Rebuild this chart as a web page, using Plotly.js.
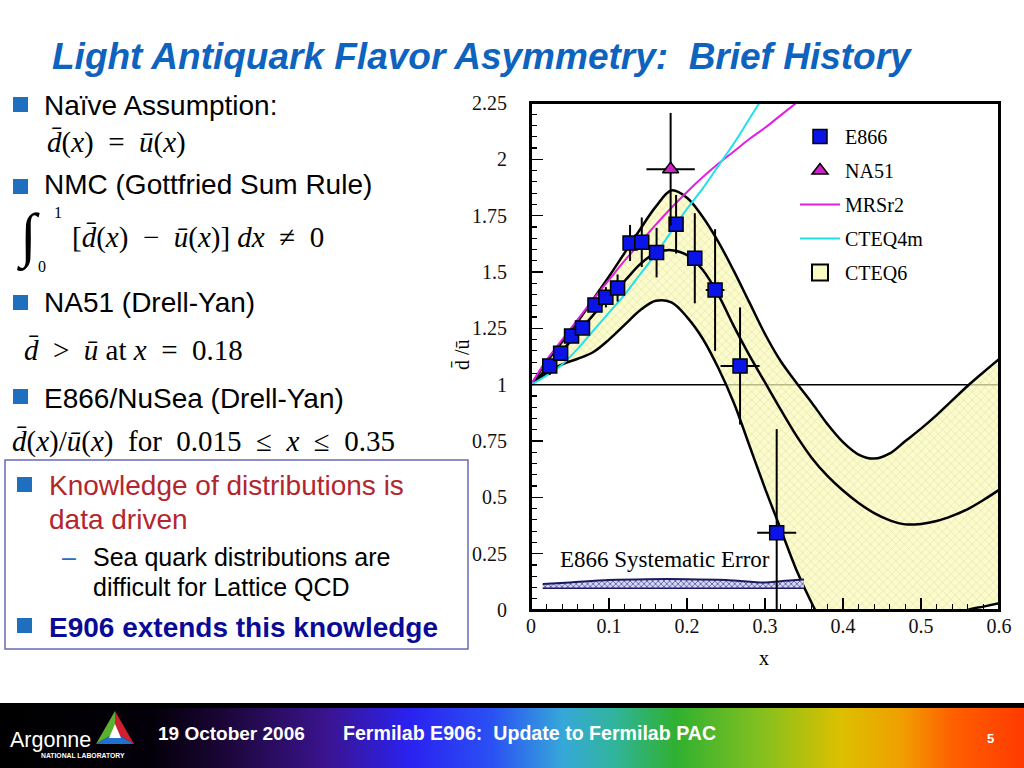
<!DOCTYPE html>
<html><head><meta charset="utf-8">
<script src="https://cdn.plot.ly/plotly-3.0.1.min.js"></script>
<style>html,body{margin:0;padding:0;background:#fff}#chart{width:1024px;height:768px}</style>
</head><body><div id="chart"></div>
<script>
// ---------------- data ----------------
const e866X   = [0.024,0.038,0.052,0.066,0.082,0.096,0.111,0.127,0.142,0.161,0.186,0.210,0.236,0.268,0.315];
const e866Y   = [1.083,1.139,1.216,1.252,1.354,1.388,1.429,1.629,1.632,1.586,1.712,1.561,1.420,1.083,0.343];
const e866Err = [0.04,0.03,0.03,0.03,0.03,0.045,0.06,0.08,0.11,0.11,0.13,0.20,0.27,0.26,0.46];
const e866XErr= [0.003,0.004,0.005,0.005,0.005,0.005,0.005,0.005,0.005,0.007,0.008,0.009,0.012,0.025,0.025];

const na51X = [0.179];
const na51Y = [1.956];
const na51Err = [0.25];
const na51XErr = [0.031];

const mrsX = [0.0,0.02,0.04,0.06,0.08,0.10,0.12,0.14,0.16,0.18,0.20,0.22,0.24,0.26,0.28,0.30,0.32,0.34];
const mrsY = [1.0,1.11,1.20,1.29,1.38,1.465,1.55,1.63,1.71,1.785,1.855,1.92,1.98,2.035,2.09,2.14,2.195,2.25];

const cteq4X = [0.0,0.02,0.04,0.06,0.08,0.10,0.12,0.14,0.16,0.18,0.20,0.22,0.24,0.26,0.28,0.30];
const cteq4Y = [1.0,1.04,1.09,1.16,1.24,1.32,1.40,1.49,1.58,1.68,1.78,1.87,1.97,2.07,2.18,2.29];

const bandX = [0,0.02,0.04,0.06,0.08,0.10,0.12,0.14,0.16,0.18,0.20,0.22,0.24,0.26,0.28,0.30,0.32,0.34,0.36,0.38,0.40,0.42,0.44,0.46,0.48,0.50,0.52,0.54,0.56,0.58,0.60];
const bandUpper = [1.0,1.10,1.19,1.28,1.38,1.48,1.585,1.69,1.79,1.862,1.83,1.745,1.635,1.505,1.365,1.225,1.105,1.01,0.92,0.825,0.745,0.69,0.672,0.695,0.75,0.805,0.865,0.93,0.995,1.055,1.113];
const bandCentral = [1.0,1.07,1.15,1.23,1.31,1.39,1.46,1.535,1.585,1.597,1.575,1.51,1.40,1.26,1.13,1.01,0.89,0.775,0.675,0.595,0.53,0.475,0.43,0.398,0.38,0.382,0.395,0.418,0.448,0.488,0.533];
const bandLower = [1.0,1.05,1.09,1.115,1.145,1.20,1.265,1.33,1.372,1.365,1.30,1.205,1.075,0.92,0.73,0.54,0.36,0.18,0.03,-0.10,-0.18,-0.20,-0.20,-0.18,-0.15,-0.12,-0.08,-0.04,0.0,0.015,0.03];

const sysX = [0.015,0.05,0.10,0.15,0.20,0.25,0.30,0.32,0.35];
const sysTop = [0.115,0.122,0.133,0.137,0.137,0.133,0.122,0.128,0.135];
const sysBottom = [0.097,0.097,0.097,0.097,0.097,0.097,0.097,0.097,0.097];

const xTicks = [0,0.1,0.2,0.3,0.4,0.5,0.6];
const yTicks = [0,0.25,0.5,0.75,1,1.25,1.5,1.75,2,2.25];
const refY = 1;

// ---------------- page geometry ----------------
const W=1024,H=768,L=531,R=25,T=103,B=158;
const pw=W-L-R, ph=H-T-B;
const px = x => (x-L)/pw;
const py = y => (H-B-y)/ph;

const SERIF='Liberation Serif, Times New Roman, serif';
const SANS='Liberation Sans, Arial, sans-serif';
const SP='\u2002';

function ann(text,x,y,size,color,family,extra){
  return Object.assign({text:text,xref:'paper',yref:'paper',x:px(x),y:py(y),xanchor:'left',yanchor:'middle',
    showarrow:false,font:{size:size,color:color,family:family}},extra||{});
}

const black='#000';
const bandPattern={shape:'x',bgcolor:'rgba(250,250,188,0.72)',fgcolor:'rgba(215,215,140,0.9)',size:6,solidity:0.15};
const traces=[
 {x:bandX,y:bandUpper,mode:'lines',line:{color:black,width:2.5,shape:'spline',smoothing:1},showlegend:false,hoverinfo:'skip'},
 {x:bandX,y:bandLower,mode:'lines',fill:'tonexty',fillcolor:'rgba(250,250,188,0.72)',fillpattern:bandPattern,
  line:{color:black,width:2.5,shape:'spline',smoothing:1},showlegend:false,hoverinfo:'skip'},
 {x:bandX,y:bandCentral,mode:'lines',line:{color:black,width:2.5,shape:'spline',smoothing:1},showlegend:false,hoverinfo:'skip'},
 {x:mrsX,y:mrsY,mode:'lines',name:'MRSr2',line:{color:'#e020e0',width:2,shape:'spline',smoothing:1},legendrank:3,legendgroup:'c'},
 {x:cteq4X,y:cteq4Y,mode:'lines',name:'CTEQ4m',line:{color:'#22e0ea',width:2,shape:'spline',smoothing:1},legendrank:4,legendgroup:'d'},
 {x:sysX,y:sysBottom,mode:'lines',line:{color:'#1a1a60',width:1.5},showlegend:false,hoverinfo:'skip'},
 {x:sysX,y:sysTop,mode:'lines',fill:'tonexty',fillcolor:'#c8c8f0',
  fillpattern:{shape:'x',bgcolor:'#d8d8f4',fgcolor:'#303090',size:4,solidity:0.3},
  line:{color:'#1a1a60',width:2,shape:'spline'},showlegend:false,hoverinfo:'skip'},
 {x:e866X,y:e866Y,mode:'markers',name:'E866',legendrank:1,legendgroup:'a',
  marker:{symbol:'square',size:14,color:'#0a14e6',line:{color:black,width:1.5}},
  error_y:{type:'data',array:e866Err,color:black,thickness:2,width:0},
  error_x:{type:'data',array:e866XErr,color:black,thickness:2,width:0}},
 {x:na51X,y:na51Y,mode:'markers',name:'NA51',legendrank:2,legendgroup:'b',
  marker:{symbol:'triangle-up',size:14,color:'#d020c8',line:{color:black,width:1.5}},
  error_y:{type:'data',array:na51Err,color:black,thickness:2,width:0},
  error_x:{type:'data',array:na51XErr,color:black,thickness:2,width:0}},
 {x:[null],y:[null],mode:'markers',name:'CTEQ6',legendrank:5,legendgroup:'e',
  marker:{symbol:'square',size:26,color:'#fbfbc4',line:{color:black,width:2},
   pattern:{shape:'x',bgcolor:'#fbfbc4',fgcolor:'#e2e29a',size:4,solidity:0.15}}}
];

const gradSvg = "<svg xmlns='http://www.w3.org/2000/svg' width='1024' height='65' viewBox='0 0 1024 65' preserveAspectRatio='none'>"+
 "<defs><linearGradient id='g' x1='0' x2='1' y1='0' y2='0'>"+
 "<stop offset='0' stop-color='#000000'/><stop offset='0.15' stop-color='#04000a'/>"+
 "<stop offset='0.22' stop-color='#1c0638'/><stop offset='0.32' stop-color='#3a1490'/>"+
 "<stop offset='0.40' stop-color='#2a22f0'/><stop offset='0.48' stop-color='#2a50f4'/>"+
 "<stop offset='0.55' stop-color='#36a8d8'/><stop offset='0.60' stop-color='#30b49c'/>"+
 "<stop offset='0.66' stop-color='#30b030'/><stop offset='0.74' stop-color='#80c020'/>"+
 "<stop offset='0.82' stop-color='#dcc000'/><stop offset='0.88' stop-color='#f0a000'/>"+
 "<stop offset='0.93' stop-color='#ff6000'/><stop offset='1' stop-color='#ff3a00'/>"+
 "</linearGradient></defs><rect width='1024' height='65' fill='url(#g)'/><rect width='1024' height='5' fill='#000'/></svg>";

function pathPx(pts){
  return 'M'+pts.map(p=>px(p[0])+','+py(p[1])).join('L')+'Z';
}
const apex=[115,711], bl=[96,744], br=[134,744], cen=[115,733];

const shapes=[
 {type:'line',xref:'x',yref:'y',x0:xTicks[0],x1:xTicks[xTicks.length-1],y0:refY,y1:refY,line:{color:black,width:1.5},layer:'below'},
 // plot frame
 {type:'rect',xref:'paper',yref:'paper',x0:0,x1:1,y0:0,y1:1,line:{color:black,width:2},layer:'above'},
 // bullets
 ...[[13,97],[13,179],[13,295],[13,389],[17,477],[17,618]].map(b=>({type:'rect',xref:'paper',yref:'paper',
   x0:px(b[0]),x1:px(b[0]+15),y0:py(b[1]),y1:py(b[1]+15),fillcolor:'#1f6fbf',line:{width:0}})),
 // knowledge box
 {type:'rect',xref:'paper',yref:'paper',x0:px(5),x1:px(468),y0:py(460),y1:py(649),line:{color:'#6a6ab4',width:1.5}},
 // argonne logo
 {type:'path',xref:'paper',yref:'paper',path:pathPx([apex,bl,cen]),fillcolor:'#5cb030',line:{width:0},layer:'above'},
 {type:'path',xref:'paper',yref:'paper',path:pathPx([apex,br,cen]),fillcolor:'#d02030',line:{width:0},layer:'above'},
 {type:'path',xref:'paper',yref:'paper',path:pathPx([bl,br,cen]),fillcolor:'#2070d0',line:{width:0},layer:'above'},
 {type:'path',xref:'paper',yref:'paper',path:pathPx([[115,724],[109,738],[121,738]]),fillcolor:'#ffffff',line:{width:0},layer:'above'}
];

const annotations=[
 ann('<b><i>Light Antiquark Flavor Asymmetry:\u00a0 Brief History</i></b>',50,57,37,'#0d63bd',SANS),
 ann('Naïve Assumption:',42,105,28,'#000',SANS),
 ann('<i>d\u0304</i>(<i>x</i>)'+SP+'='+SP+'<i>u\u0304</i>(<i>x</i>)',45,143,29,'#000',SERIF),
 ann('NMC (Gottfried Sum Rule)',42,184,28,'#000',SANS),
 ann('\u222B',15,237,60,'#000',SERIF),
 ann('1',52,212,16,'#000',SERIF),
 ann('0',36,266,16,'#000',SERIF),
 ann('[<i>d\u0304</i>(<i>x</i>)'+SP+'\u2212'+SP+'<i>u\u0304</i>(<i>x</i>)] <i>dx</i>'+SP+'\u2260'+SP+'0',70,237,29,'#000',SERIF),
 ann('NA51 (Drell-Yan)',42,302,28,'#000',SANS),
 ann('<i>d\u0304</i>'+SP+'&gt;'+SP+'<i>u\u0304</i> at <i>x</i>'+SP+'='+SP+'0.18',22,350,29,'#000',SERIF),
 ann('E866/NuSea (Drell-Yan)',42,398,28,'#000',SANS),
 ann('<i>d\u0304</i>(<i>x</i>)/<i>u\u0304</i>(<i>x</i>)'+SP+'for'+SP+'0.015'+SP+'\u2264'+SP+'<i>x</i>'+SP+'\u2264'+SP+'0.35',10,441,29,'#000',SERIF),
 ann('Knowledge of distributions is',47,485,28,'#b3262e',SANS),
 ann('data driven',47,519,28,'#b3262e',SANS),
 ann('\u2013',60,557,25,'#1f6fbf',SANS),
 ann('Sea quark distributions are',91,557,25,'#000',SANS),
 ann('difficult for Lattice QCD',91,587,25,'#000',SANS),
 ann('<b>E906 extends this knowledge</b>',47,627,28,'#0a0a96',SANS),
 // axis titles
 ann('d\u0304 /u\u0304',462,355,20,'#000',SERIF,{xanchor:'center',textangle:-90}),
 ann('x',764,658,20,'#000',SERIF,{xanchor:'center'}),
 // plot text
 {text:'E866 Systematic Error',xref:'x',yref:'y',x:0.035,y:0.222,xanchor:'left',yanchor:'middle',showarrow:false,
  font:{size:23,color:'#000',family:SERIF}},
 // footer
 ann('Argonne',8,740,21.5,'#fff',SANS),
 ann('<b>NATIONAL LABORATORY</b>',39,755,6.8,'#fff',SANS),
 ann('<b>19 October 2006</b>',156,733,19,'#fff',SANS),
 ann('<b>Fermilab E906:\u00a0 Update to Fermilab PAC</b>',341,733,19.6,'#fff',SANS),
 ann('<b>5</b>',990,738,13,'#fff',SANS,{xanchor:'center'})
];

const layout={
 width:W,height:H,margin:{l:L,r:R,t:T,b:B,pad:0},
 paper_bgcolor:'#fff',plot_bgcolor:'#fff',
 showlegend:true,
 legend:{x:px(795),y:py(117),xanchor:'left',yanchor:'top',bgcolor:'rgba(0,0,0,0)',borderwidth:0,
   font:{family:SERIF,size:20,color:'#000'},tracegroupgap:5,itemwidth:40},
 xaxis:{range:[0,0.6],tickvals:xTicks,ticks:'inside',ticklen:12,tickwidth:1.5,tickcolor:black,
   showline:true,linecolor:black,linewidth:2,mirror:true,showgrid:false,zeroline:false,
   minor:{dtick:0.02,ticks:'inside',ticklen:6,tickcolor:black,tickwidth:1.2,showgrid:false},
   tickfont:{family:SERIF,size:20,color:'#111'},ticklabelstandoff:-3,fixedrange:true},
 yaxis:{range:[0,2.25],tickvals:yTicks,ticks:'inside',ticklen:12,tickwidth:1.5,tickcolor:black,
   showline:true,linecolor:black,linewidth:2,mirror:true,showgrid:false,zeroline:false,
   minor:{dtick:0.05,ticks:'inside',ticklen:6,tickcolor:black,tickwidth:1.2,showgrid:false},
   tickfont:{family:SERIF,size:20,color:'#111'},ticklabelstandoff:18,fixedrange:true},
 shapes:shapes,
 annotations:annotations,
 images:[{source:'data:image/svg+xml;charset=utf-8,'+encodeURIComponent(gradSvg),xref:'paper',yref:'paper',
   x:px(0),y:py(703),sizex:W/pw,sizey:65/ph,xanchor:'left',yanchor:'top',sizing:'stretch',layer:'below'}]
};

Plotly.newPlot('chart',traces,layout,{staticPlot:true,displayModeBar:false});
</script></body></html>
